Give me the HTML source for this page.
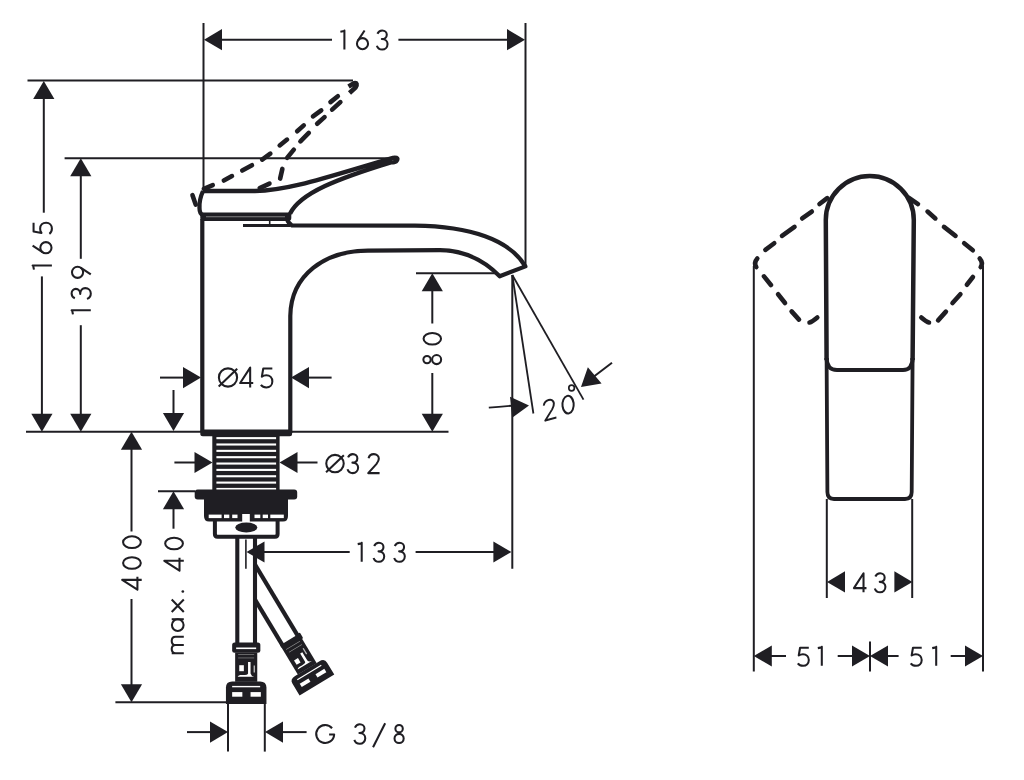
<!DOCTYPE html>
<html><head><meta charset="utf-8"><style>
html,body{margin:0;padding:0;background:#fff;}
svg{display:block;}
.s{fill:none;stroke:#1f1e23;stroke-linecap:butt;stroke-linejoin:round;}
.d{fill:none;stroke:#1f1e23;stroke-dasharray:8 12;stroke-dashoffset:-2;stroke-linecap:round;}
.d2{fill:none;stroke:#1f1e23;stroke-dasharray:7 11;stroke-linecap:round;}
.f{fill:#1f1e23;}
.r{fill:none;stroke:#1f1e23;stroke-linecap:round;stroke-linejoin:round;}
.g{fill:none;stroke:#1f1e23;stroke-linecap:butt;stroke-linejoin:round;}
.gf{fill:#1f1e23;stroke:none;}
</style></head><body>
<svg width="1024" height="780" viewBox="0 0 1024 780">
<rect width="1024" height="780" fill="#fff"/>
<path class="s" d="M203.5,23 L203.5,190" stroke-width="2.0"/>
<path class="s" d="M525.5,23 L525.5,266" stroke-width="2.0"/>
<path class="s" d="M210,39.7 L332,39.7" stroke-width="2.0"/>
<path class="s" d="M398.4,39.7 L520,39.7" stroke-width="2.0"/>
<path class="f" d="M204.00,39.70 L222.00,29.10 L222.00,50.30 Z"/>
<path class="f" d="M525.00,39.70 L507.00,50.30 L507.00,29.10 Z"/>
<g class="g" transform="translate(344.40,30.50) scale(0.1910)" stroke-width="10.73"><path d="M-21,7 L-1,3 L0,0 L0,100"/></g>
<g class="g" transform="translate(362.50,30.50) scale(0.1910)" stroke-width="10.73"><path d="M11,0 L-24.3,53.2"/><circle cx="0" cy="69" r="29"/></g>
<g class="g" transform="translate(382.20,30.50) scale(0.1910)" stroke-width="10.73"><path d="M-25,17 C-20,6 -11,0 0,0 C14,0 24,10 24,22 C24,36 13,45 -2,45 C16,45 28,56 28,71 C28,88 15,100 0,100 C-14,100 -24,92 -28,80"/></g>
<path class="s" d="M27.5,80.5 L353,80.5" stroke-width="2.0"/>
<path class="s" d="M64.6,158.2 L391,158.2" stroke-width="2.0"/>
<path class="s" d="M43.8,90 L43.8,212.7" stroke-width="2.0"/>
<path class="s" d="M41.9,276.4 L41.9,425" stroke-width="2.0"/>
<path class="f" d="M43.80,80.90 L54.40,98.90 L33.20,98.90 Z"/>
<path class="f" d="M41.90,431.80 L31.30,413.80 L52.50,413.80 Z"/>
<g class="g" transform="translate(32.60,265.60) rotate(-90) scale(0.1930)" stroke-width="10.62"><path d="M-21,7 L-1,3 L0,0 L0,100"/></g>
<g class="g" transform="translate(32.60,247.70) rotate(-90) scale(0.1930)" stroke-width="10.62"><path d="M11,0 L-24.3,53.2"/><circle cx="0" cy="69" r="29"/></g>
<g class="g" transform="translate(32.60,228.30) rotate(-90) scale(0.1930)" stroke-width="10.62"><path d="M29,5 L-17,5 L-24,46 C-17,41 -9,39 -2,39 C17,39 29,52 29,70 C29,88 16,100 -1,100 C-13,100 -23,95 -29,87"/></g>
<path class="s" d="M80.8,165 L80.8,258.8" stroke-width="2.0"/>
<path class="s" d="M80.8,325.2 L80.8,425" stroke-width="2.0"/>
<path class="f" d="M80.80,158.20 L91.40,176.20 L70.20,176.20 Z"/>
<path class="f" d="M80.80,431.70 L70.20,413.70 L91.40,413.70 Z"/>
<g class="g" transform="translate(71.60,310.30) rotate(-90) scale(0.1920)" stroke-width="10.68"><path d="M-21,7 L-1,3 L0,0 L0,100"/></g>
<g class="g" transform="translate(71.60,293.50) rotate(-90) scale(0.1920)" stroke-width="10.68"><path d="M-25,17 C-20,6 -11,0 0,0 C14,0 24,10 24,22 C24,36 13,45 -2,45 C16,45 28,56 28,71 C28,88 15,100 0,100 C-14,100 -24,92 -28,80"/></g>
<g class="g" transform="translate(71.60,272.30) rotate(-90) scale(0.1920)" stroke-width="10.68"><path d="M-11,100 L24.3,46.8"/><circle cx="0" cy="31" r="29"/></g>
<path class="s" d="M26,431.7 L448.5,431.7" stroke-width="2.0"/>
<path class="s" d="M160,377.6 L190,377.6" stroke-width="2.0"/>
<path class="f" d="M201.00,377.60 L183.00,388.20 L183.00,367.00 Z"/>
<path class="s" d="M300,377.6 L331.6,377.6" stroke-width="2.0"/>
<path class="f" d="M291.00,377.60 L309.00,367.00 L309.00,388.20 Z"/>
<g class="g" transform="translate(228.00,367.60) scale(0.1980)" stroke-width="10.35"><circle cx="0" cy="50" r="46"/><path d="M-47,96 L46.5,6"/></g>
<g class="g" transform="translate(246.70,367.60) scale(0.1980)" stroke-width="10.35"><path d="M17.5,100 L17.5,0 L-33,78 L33,78"/></g>
<g class="g" transform="translate(266.60,367.60) scale(0.1980)" stroke-width="10.35"><path d="M29,5 L-17,5 L-24,46 C-17,41 -9,39 -2,39 C17,39 29,52 29,70 C29,88 16,100 -1,100 C-13,100 -23,95 -29,87"/></g>
<path class="s" d="M173.5,390 L173.5,420" stroke-width="2.0"/>
<path class="f" d="M173.50,431.00 L162.90,413.00 L184.10,413.00 Z"/>
<path class="s" d="M416,273.3 L497,273.3" stroke-width="2.0"/>
<path class="s" d="M432.3,280 L432.3,323.5" stroke-width="2.0"/>
<path class="s" d="M432.3,373 L432.3,425" stroke-width="2.0"/>
<path class="f" d="M432.30,273.30 L442.90,291.30 L421.70,291.30 Z"/>
<path class="f" d="M432.30,431.70 L421.70,413.70 L442.90,413.70 Z"/>
<g class="g" transform="translate(422.70,359.60) rotate(-90) scale(0.1920)" stroke-width="10.68"><circle cx="0" cy="22.5" r="19"/><circle cx="0" cy="72.5" r="23.5"/></g>
<g class="g" transform="translate(422.70,338.80) rotate(-90) scale(0.1920)" stroke-width="10.68"><ellipse cx="0" cy="50" rx="30" ry="45.5"/></g>
<path class="s" d="M512.3,275 L512.3,568.7" stroke-width="2.0"/>
<path class="s" d="M512.3,275 L533.4,413.5" stroke-width="1.8"/>
<path class="s" d="M512.3,275 L583.5,399.6" stroke-width="1.8"/>
<path class="s" d="M488.8,407.7 Q500,406.5 515,405.5" stroke-width="1.8"/>
<path class="f" d="M529.00,405.40 L512.14,417.74 L510.03,396.64 Z"/>
<path class="s" d="M612,362.7 L592,378" stroke-width="2.0"/>
<path class="f" d="M581.00,387.00 L587.85,367.27 L601.58,383.42 Z"/>
<g class="g" transform="matrix(0.1845,-0.0530,0.0238,0.1905,548.30,400.00)" stroke-width="10.68"><path d="M-27,22 C-24,8 -13,0 1,0 C16,0 27,11 27,25 C27,36 21,44 14,53 L-29,100 L31,100"/></g>
<g class="g" transform="matrix(0.1845,-0.0530,0.0238,0.1905,566.90,395.10)" stroke-width="10.68"><ellipse cx="0" cy="50" rx="30" ry="45.5"/></g>
<circle cx="571.6" cy="388" r="2.8" fill="none" stroke="#1f1e23" stroke-width="1.7"/>
<path class="s" d="M174.4,462.5 L200,462.5" stroke-width="2.0"/>
<path class="f" d="M212.50,462.50 L194.50,473.10 L194.50,451.90 Z"/>
<path class="s" d="M290,462.5 L317.5,462.5" stroke-width="2.0"/>
<path class="f" d="M279.50,462.50 L297.50,451.90 L297.50,473.10 Z"/>
<g class="g" transform="translate(335.00,454.10) scale(0.1900)" stroke-width="10.79"><circle cx="0" cy="50" r="46"/><path d="M-47,96 L46.5,6"/></g>
<g class="g" transform="translate(352.80,454.10) scale(0.1900)" stroke-width="10.79"><path d="M-25,17 C-20,6 -11,0 0,0 C14,0 24,10 24,22 C24,36 13,45 -2,45 C16,45 28,56 28,71 C28,88 15,100 0,100 C-14,100 -24,92 -28,80"/></g>
<g class="g" transform="translate(373.70,454.10) scale(0.1900)" stroke-width="10.79"><path d="M-27,22 C-24,8 -13,0 1,0 C16,0 27,11 27,25 C27,36 21,44 14,53 L-29,100 L31,100"/></g>
<path class="s" d="M158,491.2 L195,491.2" stroke-width="2.0"/>
<path class="s" d="M173.5,500 L173.5,528.7" stroke-width="2.0"/>
<path class="f" d="M173.50,491.20 L184.10,509.20 L162.90,509.20 Z"/>
<g class="g" transform="translate(164.30,543.50) rotate(-90) scale(0.1950)" stroke-width="10.51"><ellipse cx="0" cy="50" rx="30" ry="45.5"/></g>
<g class="g" transform="translate(164.30,564.20) rotate(-90) scale(0.1950)" stroke-width="10.51"><path d="M17.5,100 L17.5,0 L-33,78 L33,78"/></g>
<g class="g" transform="translate(164.30,591.50) rotate(-90) scale(0.1950)" stroke-width="10.51"><circle cx="0" cy="95" r="7" class="gf"/></g>
<g class="g" transform="translate(164.30,605.70) rotate(-90) scale(0.1950)" stroke-width="10.51"><path d="M-32,38 L32,100 M32,38 L-32,100"/></g>
<g class="g" transform="translate(164.30,624.50) rotate(-90) scale(0.1950)" stroke-width="10.51"><circle cx="-3" cy="69" r="30"/><path d="M27,38 L27,100"/></g>
<g class="g" transform="translate(164.30,645.00) rotate(-90) scale(0.1950)" stroke-width="10.51"><path d="M-42,38 L-42,100 M-42,58 C-42,45 -33,38 -21,38 C-9,38 0,45 0,58 L0,100 M0,58 C0,45 9,38 21,38 C33,38 42,45 42,58 L42,100"/></g>
<path class="s" d="M131.5,440 L131.5,531.5" stroke-width="2.0"/>
<path class="s" d="M131.5,599 L131.5,695" stroke-width="2.0"/>
<path class="f" d="M131.50,431.70 L142.10,449.70 L120.90,449.70 Z"/>
<path class="f" d="M131.50,702.20 L120.90,684.20 L142.10,684.20 Z"/>
<g class="g" transform="translate(122.20,583.30) rotate(-90) scale(0.1950)" stroke-width="10.51"><path d="M17.5,100 L17.5,0 L-33,78 L33,78"/></g>
<g class="g" transform="translate(122.20,563.00) rotate(-90) scale(0.1950)" stroke-width="10.51"><ellipse cx="0" cy="50" rx="30" ry="45.5"/></g>
<g class="g" transform="translate(122.20,542.20) rotate(-90) scale(0.1950)" stroke-width="10.51"><ellipse cx="0" cy="50" rx="30" ry="45.5"/></g>
<path class="s" d="M115.4,702.2 L226,702.2" stroke-width="2.0"/>
<path class="s" d="M255,552 L349.7,552" stroke-width="2.0"/>
<path class="s" d="M415.6,552 L500,552" stroke-width="2.0"/>
<path class="f" d="M246.50,552.00 L264.50,541.40 L264.50,562.60 Z"/>
<path class="f" d="M511.40,552.00 L493.40,562.60 L493.40,541.40 Z"/>
<g class="g" transform="translate(361.70,542.80) scale(0.1900)" stroke-width="10.79"><path d="M-21,7 L-1,3 L0,0 L0,100"/></g>
<g class="g" transform="translate(378.90,542.80) scale(0.1900)" stroke-width="10.79"><path d="M-25,17 C-20,6 -11,0 0,0 C14,0 24,10 24,22 C24,36 13,45 -2,45 C16,45 28,56 28,71 C28,88 15,100 0,100 C-14,100 -24,92 -28,80"/></g>
<g class="g" transform="translate(399.50,542.80) scale(0.1900)" stroke-width="10.79"><path d="M-25,17 C-20,6 -11,0 0,0 C14,0 24,10 24,22 C24,36 13,45 -2,45 C16,45 28,56 28,71 C28,88 15,100 0,100 C-14,100 -24,92 -28,80"/></g>
<path class="s" d="M228,703 L228,751.6" stroke-width="2.0"/>
<path class="s" d="M264.8,703 L264.8,751.6" stroke-width="2.0"/>
<path class="s" d="M187,732.1 L215,732.1" stroke-width="2.0"/>
<path class="f" d="M228.00,732.10 L210.00,742.70 L210.00,721.50 Z"/>
<path class="s" d="M275,732.1 L306.6,732.1" stroke-width="2.0"/>
<path class="f" d="M265.00,732.10 L283.00,721.50 L283.00,742.70 Z"/>
<g class="g" transform="translate(325.20,724.30) scale(0.1950)" stroke-width="10.51"><path d="M35.2,20.4 A46,46 0 1 0 46,52 L20,52"/></g>
<g class="g" transform="translate(359.80,724.30) scale(0.1950)" stroke-width="10.51"><path d="M-25,17 C-20,6 -11,0 0,0 C14,0 24,10 24,22 C24,36 13,45 -2,45 C16,45 28,56 28,71 C28,88 15,100 0,100 C-14,100 -24,92 -28,80"/></g>
<g class="g" transform="translate(379.10,724.30) scale(0.1950)" stroke-width="10.51"><path d="M-31,118 L31,-5"/></g>
<g class="g" transform="translate(399.10,724.30) scale(0.1950)" stroke-width="10.51"><circle cx="0" cy="22.5" r="19"/><circle cx="0" cy="72.5" r="23.5"/></g>
<path class="r" d="M203.85,188.97 L212.75,185.23" stroke-width="4.6"/>
<path class="r" d="M223.83,180.51 L231.97,176.09" stroke-width="4.6"/>
<path class="r" d="M242.23,170.52 L251.97,165.28" stroke-width="4.6"/>
<path class="r" d="M262.18,159.64 L270.32,153.66" stroke-width="4.6"/>
<path class="r" d="M279.67,145.43 L287.03,139.57" stroke-width="4.6"/>
<path class="r" d="M297.15,131.30 L303.75,125.40" stroke-width="4.6"/>
<path class="r" d="M312.99,116.35 L321.21,110.35" stroke-width="4.6"/>
<path class="r" d="M330.47,102.12 L337.83,96.18" stroke-width="4.6"/>
<path class="r" d="M259.74,188.05 L269.46,183.55" stroke-width="4.6"/>
<path class="r" d="M280.13,178.62 L282.37,168.88" stroke-width="4.6"/>
<path class="r" d="M287.08,157.84 L293.82,149.66" stroke-width="4.6"/>
<path class="r" d="M300.42,141.28 L308.78,132.92" stroke-width="4.6"/>
<path class="r" d="M317.15,123.80 L324.55,117.10" stroke-width="4.6"/>
<path class="r" d="M332.14,109.60 L340.36,102.10" stroke-width="4.6"/>
<path class="s" d="M348.5,86.5 L354,83.2 Q358.5,82.5 355.5,87.5 L349.5,93" stroke-width="4.6"/>
<path class="r" d="M192.49,195.17 L195.71,204.63" stroke-width="4.6"/>
<path class="s" d="M203,191 L255,191 C290,190.5 330,176 393,157.8 Q400,157 396,161.5 Q392,163 391.7,162.1 C338,178.5 300,193 290,213.8" stroke-width="4.3"/>
<path class="s" d="M203,191 Q199,200 199.5,208 Q199.5,214 203,215" stroke-width="4.3"/>
<rect class="f" x="200.3" y="212.5" width="91" height="8.6" rx="3"/>
<rect x="206" y="216.4" width="79" height="0.8" fill="#999"/>
<path class="s" d="M202.3,219 L202.3,431 M290.3,433 L290.3,316 C290.8,275 325,250.6 368,250.6 L440,250.2 C460,250.5 480,256 499.7,276.3 L525.4,266.4 C510,240 470,226.2 415,225.7 L292,225.5 Q288,223 287,219" stroke-width="4.2"/>
<rect class="f" x="200.3" y="429.6" width="91.8" height="6.6" rx="2.5"/>
<path class="s" d="M243,225.6 L290,225.6" stroke-width="3"/>
<path class="s" d="M269.7,220 L269.7,225" stroke-width="1.6"/>
<rect class="f" x="212.3" y="435" width="67.3" height="56"/>
<rect x="216.4" y="437.1" width="59.7" height="2.1" fill="#fff"/>
<rect x="216.4" y="443.45" width="59.7" height="2.1" fill="#fff"/>
<rect x="216.4" y="449.8" width="59.7" height="2.1" fill="#fff"/>
<rect x="216.4" y="456.15" width="59.7" height="2.1" fill="#fff"/>
<rect x="216.4" y="462.5" width="59.7" height="2.1" fill="#fff"/>
<rect x="216.4" y="468.85" width="59.7" height="2.1" fill="#fff"/>
<rect x="216.4" y="475.2" width="59.7" height="2.1" fill="#fff"/>
<rect x="216.4" y="481.55" width="59.7" height="2.1" fill="#fff"/>
<rect x="216.4" y="487.9" width="59.7" height="2.1" fill="#fff"/>
<rect class="f" x="194.7" y="489.4" width="102.5" height="10" rx="3"/>
<path class="f" d="M204,498 L288,498 L288,516 Q288,521.5 283,521.5 L209,521.5 Q204,521.5 204,516 Z"/>
<rect x="208.7" y="514.6" width="12.9" height="3.5" fill="#fff"/>
<rect x="224" y="514.6" width="5.3" height="3.5" fill="#fff"/>
<rect x="232.2" y="514.6" width="5.3" height="3.5" fill="#fff"/>
<rect x="254.5" y="514.6" width="5.8" height="3.5" fill="#fff"/>
<rect x="262.7" y="514.6" width="5.3" height="3.5" fill="#fff"/>
<rect x="270.3" y="514.6" width="13.5" height="3.5" fill="#fff"/>
<rect x="242.2" y="514" width="7.6" height="8" fill="#fff"/>
<path class="s" d="M214.9,521 L214.9,534 Q214.9,536.8 217.5,536.8 L275,536.8 Q277.6,536.8 277.6,534 L277.6,521" stroke-width="4"/>
<ellipse class="f" cx="246.3" cy="527.5" rx="11" ry="5"/>
<path class="s" d="M237.3,538 L237.3,643" stroke-width="4.1"/>
<path class="s" d="M255,538 L255,643" stroke-width="4.1"/>
<path class="s" d="M245.9,539.6 L245.9,568.8" stroke-width="1.6"/>
<g transform="translate(246.15,642.5)"><rect class="f" x="-14" y="0" width="28.2" height="10.3" rx="2.5"/>
<rect x="-10" y="5" width="20" height="1.6" fill="#fff"/>
<rect class="f" x="-11" y="10" width="22.1" height="29.3"/>
<rect x="-8" y="11.6" width="16" height="0.7" fill="#888"/>
<rect x="-8" y="15.1" width="16" height="0.7" fill="#888"/>
<rect x="-6.9" y="22.7" width="4.6" height="6" fill="#fff"/>
<path d="M1.9,19.5 L4.4,19.5 L4.4,31 Q5,33.5 8,34.2 L-8.5,34.2 Q-8,33 -6,32.5 Q1.5,33 1.9,31 Z" fill="#fff"/>
<rect x="7.5" y="23" width="1.2" height="7" fill="#ccc"/>
<path class="f" d="M-20.2,45 Q-20.2,39 -14,39 L14,39 Q20.3,39 20.3,45 L20.3,61.4 L-20.2,61.4 Z"/>
<rect x="-14" y="43.4" width="28" height="1.4" fill="#fff"/>
<rect x="-14" y="49.6" width="10.2" height="4.6" fill="#fff"/>
<rect x="4.4" y="49.6" width="10.3" height="4.6" fill="#fff"/></g>
<path class="s" d="M255.00,564.58 L298.74,637.38" stroke-width="4.2"/>
<path class="s" d="M255.00,599.52 L283.32,646.65" stroke-width="4.2"/>
<g transform="translate(290,640.3) rotate(-31) scale(1,0.85)"><rect class="f" x="-11" y="-1" width="22.1" height="40.3"/>
<rect class="f" x="9" y="-2" width="3.5" height="8" rx="1.5"/>
<rect x="-8" y="6.5" width="16" height="0.8" fill="#999"/>
<rect x="-7" y="11" width="15" height="0.8" fill="#999"/>
<rect x="6.5" y="16" width="1.3" height="8" fill="#bbb"/>
<rect x="-6.9" y="22.7" width="4.6" height="6" fill="#fff"/>
<path d="M1.9,19.5 L4.4,19.5 L4.4,31 Q5,33.5 8,34.2 L-8.5,34.2 Q-8,33 -6,32.5 Q1.5,33 1.9,31 Z" fill="#fff"/>
<path class="f" d="M-20.2,45 Q-20.2,39 -14,39 L14,39 Q20.3,39 20.3,45 L20.3,61.4 L-20.2,61.4 Z"/>
<rect x="-14" y="43.4" width="28" height="1.4" fill="#fff"/>
<rect x="-14" y="49.6" width="10.2" height="4.6" fill="#fff"/>
<rect x="4.4" y="49.6" width="10.3" height="4.6" fill="#fff"/></g>
<path class="s" d="M826.6,360 L825.8,220 A44,44 0 0 1 913.8,220 L912.6,360" stroke-width="4.5"/>
<path class="s" d="M826.6,358 Q826.8,370 837,370 L903,370 Q912.5,370 912.6,358" stroke-width="4"/>
<path class="s" d="M826.6,358 L827.4,492 Q827.4,499 834,499 L905,499 Q911.7,499 911.7,492 L912.6,358" stroke-width="3.8"/>
<path class="r" d="M819.48,204.03 L827.22,198.07" stroke-width="4.6"/>
<path class="r" d="M802.19,218.45 L811.81,211.55" stroke-width="4.6"/>
<path class="r" d="M781.99,235.85 L794.51,226.85" stroke-width="4.6"/>
<path class="r" d="M765.38,249.94 L774.22,243.26" stroke-width="4.6"/>
<path class="r" d="M763.98,276.37 L770.92,285.03" stroke-width="4.6"/>
<path class="r" d="M778.07,294.27 L785.03,303.03" stroke-width="4.6"/>
<path class="r" d="M791.60,311.35 L799.00,319.65" stroke-width="4.6"/>
<path class="r" d="M918.01,204.06 L909.29,198.04" stroke-width="4.6"/>
<path class="r" d="M935.35,218.41 L927.55,211.59" stroke-width="4.6"/>
<path class="r" d="M955.53,235.83 L943.97,226.87" stroke-width="4.6"/>
<path class="r" d="M972.83,250.22 L964.17,243.28" stroke-width="4.6"/>
<path class="r" d="M972.93,276.97 L966.87,284.73" stroke-width="4.6"/>
<path class="r" d="M960.40,294.25 L952.50,303.05" stroke-width="4.6"/>
<path class="r" d="M945.90,311.65 L938.10,320.35" stroke-width="4.6"/>
<path class="r" d="M757.3,258.5 Q753.5,263 756.3,267" stroke-width="4.6"/>
<path class="r" d="M809.5,322.5 Q812,322 817.3,317.5" stroke-width="4.6"/>
<path class="r" d="M979.7,258.5 Q983.5,263 980.7,267" stroke-width="4.6"/>
<path class="r" d="M929,322.5 Q926.5,322 921.3,317.5" stroke-width="4.6"/>
<path class="s" d="M753.8,266 L753.8,671.5" stroke-width="2.0"/>
<path class="s" d="M983,266 L983,671.5" stroke-width="2.0"/>
<path class="s" d="M826.8,499 L826.8,598" stroke-width="2.0"/>
<path class="s" d="M912.2,499 L912.2,598" stroke-width="2.0"/>
<path class="f" d="M827.00,581.90 L845.00,571.30 L845.00,592.50 Z"/>
<path class="f" d="M912.40,581.90 L894.40,592.50 L894.40,571.30 Z"/>
<g class="g" transform="translate(860.20,573.30) scale(0.1900)" stroke-width="10.79"><path d="M17.5,100 L17.5,0 L-33,78 L33,78"/></g>
<g class="g" transform="translate(880.10,573.30) scale(0.1900)" stroke-width="10.79"><path d="M-25,17 C-20,6 -11,0 0,0 C14,0 24,10 24,22 C24,36 13,45 -2,45 C16,45 28,56 28,71 C28,88 15,100 0,100 C-14,100 -24,92 -28,80"/></g>
<path class="s" d="M870,641.5 L870,671.5" stroke-width="2.0"/>
<path class="s" d="M765,656 L786,656" stroke-width="2.0"/>
<path class="s" d="M837.7,656 L860,656" stroke-width="2.0"/>
<path class="s" d="M880,656 L898.6,656" stroke-width="2.0"/>
<path class="s" d="M950.7,656 L975,656" stroke-width="2.0"/>
<path class="f" d="M753.80,656.00 L771.80,645.40 L771.80,666.60 Z"/>
<path class="f" d="M870.00,656.00 L852.00,666.60 L852.00,645.40 Z"/>
<path class="f" d="M870.00,656.00 L888.00,645.40 L888.00,666.60 Z"/>
<path class="f" d="M983.00,656.00 L965.00,666.60 L965.00,645.40 Z"/>
<g class="g" transform="translate(803.30,646.80) scale(0.1900)" stroke-width="10.79"><path d="M29,5 L-17,5 L-24,46 C-17,41 -9,39 -2,39 C17,39 29,52 29,70 C29,88 16,100 -1,100 C-13,100 -23,95 -29,87"/></g>
<g class="g" transform="translate(821.80,646.80) scale(0.1900)" stroke-width="10.79"><path d="M-21,7 L-1,3 L0,0 L0,100"/></g>
<g class="g" transform="translate(916.20,646.80) scale(0.1900)" stroke-width="10.79"><path d="M29,5 L-17,5 L-24,46 C-17,41 -9,39 -2,39 C17,39 29,52 29,70 C29,88 16,100 -1,100 C-13,100 -23,95 -29,87"/></g>
<g class="g" transform="translate(936.20,646.80) scale(0.1900)" stroke-width="10.79"><path d="M-21,7 L-1,3 L0,0 L0,100"/></g>
</svg></body></html>
